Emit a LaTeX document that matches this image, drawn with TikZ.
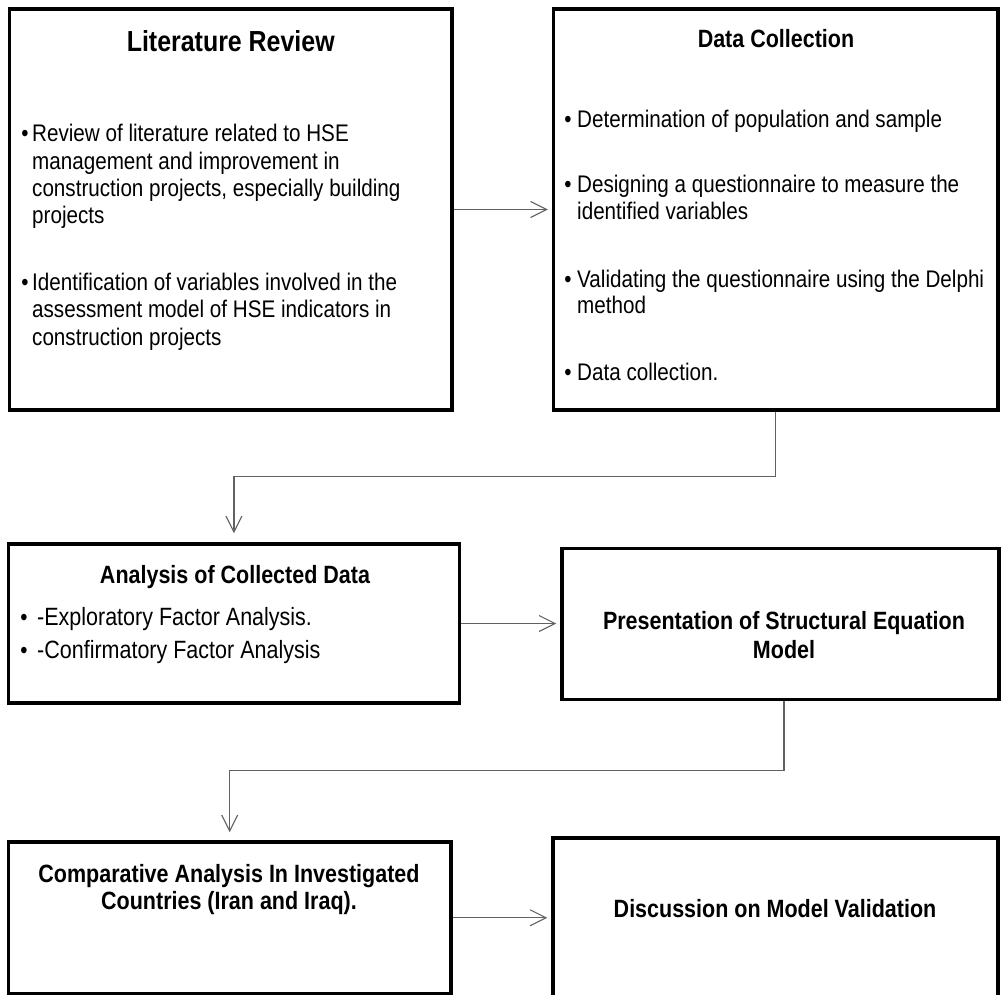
\documentclass[tikz,border=0pt]{standalone}
\usepackage{fontspec}
\setmainfont{Liberation Sans}[FakeStretch=0.86]
\usetikzlibrary{arrows.meta}
\begin{document}
\begin{tikzpicture}[x=1pt,y=-1pt,
  box/.style={draw=black, line width=3.5pt, inner sep=0pt, fill=none},
  txt/.style={anchor=base west, inner sep=0pt, font=\fontsize{24}{27}\selectfont},
  txtb/.style={anchor=base west, inner sep=0pt, font=\fontsize{25}{29}\selectfont},
  bul/.style={anchor=base, inner sep=0pt, font=\fontsize{24}{27}\selectfont},
  ttl/.style={anchor=base, inner sep=0pt, font=\fontsize{25}{29}\selectfont\bfseries},
  arr/.style={draw=black!62, line width=1.3pt, -{Straight Barb[length=16pt,width=16pt,line width=1.1pt]}}
]
\useasboundingbox (0,0) rectangle (1001,995);

% boxes
\node[box, minimum width=442.5pt, minimum height=401pt] (b1) at (230.75,209.5) {};
\node[box, minimum width=444.5pt, minimum height=401pt] (b2) at (775.75,209.5) {};
\node[box, minimum width=451.2pt, minimum height=159pt] (b3) at (233.9,623.5) {};
\node[box, minimum width=437pt, minimum height=151pt] (b4) at (780.5,624) {};
\node[box, minimum width=442.7pt, minimum height=151.5pt] (b5) at (229.65,917.75) {};
\node[box, minimum width=445pt, minimum height=170pt] (b6) at (775.5,923) {};

% Literature Review
\node[ttl, font=\fontsize{29}{33}\selectfont\bfseries] (t1) at (230.75,52) {Literature Review};
\node[bul] (p1a) at (25,141.7) {•};
\node[txt] (l1a) at (32,141.7) {Review of literature related to HSE};
\node[txt] (l1b) at (32,169.3) {management and improvement in};
\node[txt] (l1c) at (32,196.7) {construction projects, especially building};
\node[txt] (l1d) at (32,224) {projects};
\node[bul] (p1b) at (25,290) {•};
\node[txt] (l1e) at (32,290) {Identification of variables involved in the};
\node[txt] (l1f) at (32,317.7) {assessment model of HSE indicators in};
\node[txt] (l1g) at (32,345.7) {construction projects};

% Data Collection
\node[ttl] (t2) at (776,48) {Data Collection};
\node[bul] (p2a) at (568,128) {•};
\node[txt] (l2a) at (577,128) {Determination of population and sample};
\node[bul] (p2b) at (568,193) {•};
\node[txt] (l2b) at (577,193) {Designing a questionnaire to measure the};
\node[txt] (l2c) at (577,220) {identified variables};
\node[bul] (p2c) at (568,287) {•};
\node[txt] (l2d) at (577,287) {Validating the questionnaire using the Delphi};
\node[txt] (l2e) at (577,313) {method};
\node[bul] (p2d) at (568,380) {•};
\node[txt] (l2f) at (577,380) {Data collection.};

% Analysis of Collected Data
\node[ttl] (t3) at (235,583) {Analysis of Collected Data};
\node[bul] (p3a) at (24,625) {•};
\node[txtb] (l3a) at (37,625) {-Exploratory Factor Analysis.};
\node[bul] (p3b) at (24,658) {•};
\node[txtb] (l3b) at (37,658) {-Confirmatory Factor Analysis};

% Presentation of SEM
\node[ttl] (t4a) at (784,629) {Presentation of Structural Equation};
\node[ttl] (t4b) at (784,658) {Model};

% Comparative Analysis
\node[ttl] (t5a) at (229,882) {Comparative Analysis In Investigated};
\node[ttl] (t5b) at (229,909.5) {Countries (Iran and Iraq).};

% Discussion
\node[ttl] (t6) at (775,917) {Discussion on Model Validation};

% connectors
\draw[arr] (b1.east) -- ([xshift=-4pt]b2.west);
\coordinate (k1) at ([yshift=9pt]b3.north);
\draw[arr] (b2.south) -- ++(0,65) -| (k1);
\draw[arr] (b3.east) -- ([xshift=-4pt]b3.east -| b4.west);
\coordinate (s4) at ([xshift=3.5pt]b4.south);
\coordinate (k2) at ([yshift=8pt]b5.north);
\draw[arr] (s4) -- ++(0,69) -| (k2);
\draw[arr] (b5.east) -- ([xshift=-4pt]b5.east -| b6.west);
\end{tikzpicture}
\end{document}
